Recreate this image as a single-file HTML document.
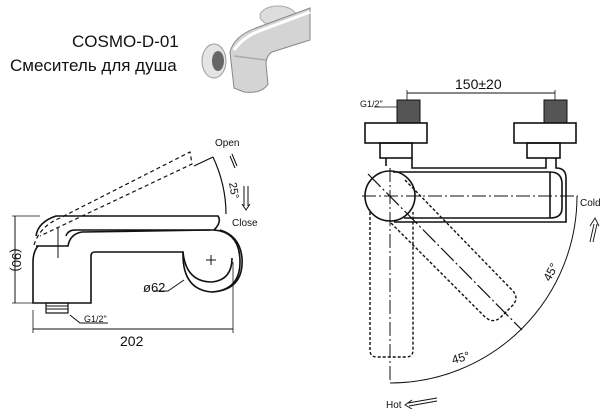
<!DOCTYPE html>
<html><head><meta charset="utf-8"><style>
html,body{margin:0;padding:0;background:#fff;}
svg{display:block;}
text{font-family:"Liberation Sans",sans-serif;fill:#111;}
</style></head><body>
<svg width="607" height="409" viewBox="0 0 607 409" xmlns="http://www.w3.org/2000/svg">
<rect width="607" height="409" fill="#fff"/>
<text x="72" y="47" font-size="17">COSMO-D-01</text>
<text x="10" y="71" font-size="17">Смеситель для душа</text>

<!-- product photo -->
<g>
  <ellipse cx="278" cy="16" rx="18" ry="10" fill="#ddd" stroke="#aaa"/>
  <ellipse cx="214" cy="61" rx="12" ry="17" fill="#e4e4e4" stroke="#999"/>
  <ellipse cx="218" cy="61" rx="6" ry="10" fill="#666"/>
  <path d="M230 52 Q234 36 256 28 L310 8 L310 40 L272 52 Q266 56 266 64 L268 84 Q262 94 244 92 L234 88 Z" fill="#d4d4d4" stroke="#888"/>
  <path d="M234 50 Q244 36 262 30 L310 12" stroke="#fff" stroke-width="3" fill="none"/>
  <path d="M234 56 L266 60" stroke="#aaa" stroke-width="1.5" fill="none"/>
</g>

<g fill="none" stroke="#111" stroke-width="1.6">
<!-- LEFT drawing -->
  <path d="M36 236 Q38 222 56 216 L218 216 Q222 222 214 230 L75 230 Q68 230 66 236"/>
  <path d="M36 246 L68 246 Q70 234 82 232 L210 230"/>
  <path d="M38 246 Q33 252 33 262 L33 303 L91 303 L91 256 Q91 252 95 252 L183 252 Q182 290 212 292 Q240 290 240 262 Q240 232 214 230"/>
  <path d="M183 252 Q186 282 212 282 Q232 280 232 258"/>
  <path d="M212 292 Q244 290 242 258 Q240 236 220 230"/>
  <rect x="46" y="303" width="22" height="10" stroke-width="1.2"/>
  <line x1="46" y1="306" x2="68" y2="306" stroke-width="1"/>
  <line x1="46" y1="309" x2="68" y2="309" stroke-width="1"/>
  <path d="M34 245 Q40 226 60 218 L190 152 L192 164 L40 236" stroke-dasharray="4,3" stroke-width="1.2"/>
  <line x1="58" y1="228" x2="58" y2="258" stroke-width="1"/>
  <path d="M194 166 L213 157" stroke-width="1.2"/>
  <path d="M213 157 Q226 185 226 214" stroke-width="1.2"/>
  <line x1="15" y1="216" x2="15" y2="303" stroke-width="1"/>
  <line x1="12" y1="216" x2="40" y2="216" stroke-width="0.8"/>
  <line x1="12" y1="303" x2="33" y2="303" stroke-width="0.8"/>
  <line x1="33" y1="310" x2="33" y2="333" stroke-width="0.8"/>
  <line x1="233" y1="262" x2="233" y2="333" stroke-width="0.8"/>
  <line x1="33" y1="329" x2="233" y2="329" stroke-width="1"/>
  <path d="M153 291 L168 291 L184 280" stroke-width="1"/>
  <path d="M70 315 L80 323 L108 323" stroke-width="1"/>
  <line x1="206" y1="260" x2="216" y2="260" stroke-width="1"/>
  <line x1="211" y1="255" x2="211" y2="265" stroke-width="1"/>
  <path d="M232 154 L237 166 M230 156 L235 168" stroke-width="1"/>
  <path d="M244 186 L244 206 M248 186 L248 206 M242 204 L246 210 L250 204" stroke-width="1"/>

<!-- RIGHT drawing -->
  <line x1="407" y1="93" x2="555" y2="93" stroke-width="1"/>
  <line x1="407" y1="90" x2="407" y2="100" stroke-width="0.8"/>
  <line x1="555" y1="90" x2="555" y2="100" stroke-width="0.8"/>
  <rect x="397" y="100" width="23" height="23" fill="#555" stroke-width="1"/>
  <rect x="544" y="100" width="23" height="23" fill="#555" stroke-width="1"/>
  <rect x="365" y="123" width="62" height="20"/>
  <rect x="514" y="123" width="62" height="20"/>
  <rect x="380" y="143" width="32" height="15"/>
  <rect x="527" y="143" width="33" height="15"/>
  <path d="M386 158 L386 166 M412 158 L412 168 L546 168 L546 158 M556 158 L556 168 Q566 168 566 178 L566 222 L394 222"/>
  <path d="M393 172 L550 172 Q562 172 562 184 L562 208 Q562 218 550 218 L404 218"/>
  <path d="M550 172 L550 218"/>
  <circle cx="390" cy="196" r="25"/>
  <line x1="362" y1="196" x2="578" y2="196" stroke-width="1" stroke-dasharray="14,3,2,3"/>
  <line x1="390" y1="168" x2="390" y2="383" stroke-width="1" stroke-dasharray="14,3,2,3"/>
  <path d="M370 212 L370 350 Q370 357 377 357 L406 357 Q413 357 413 350 L413 212" stroke-dasharray="3,2" stroke-width="1.4"/>
  <path d="M405 180 L512 290 Q520 298 512 306 L500 318 Q492 324 484 316 L390 222" stroke-dasharray="3,2" stroke-width="1.4"/>
  <line x1="368" y1="174" x2="522" y2="330" stroke-width="1.2" stroke-dasharray="18,3,2,3"/>
  <path d="M577 196 A187 187 0 0 1 390 383" stroke-width="1"/>
  <path d="M374 107 L397 107" stroke-width="0.8"/>
  <path d="M590 242 L594 224 M593 242 L597 224 M590 226 L595 218 L599 226" stroke-width="0.9"/>
  <path d="M437 398 L408 403 M437 401 L409 406 M412 400 L405 405 L412 409" stroke-width="0.9"/>
</g>
<text x="143" y="292" font-size="13">ø62</text>
<text x="84" y="322" font-size="9">G1/2"</text>
<text x="120" y="346" font-size="14">202</text>
<text transform="translate(12,260) rotate(90)" font-size="13" text-anchor="middle">(90)</text>
<text x="215" y="146" font-size="10">Open</text>
<text x="232" y="226" font-size="10">Close</text>
<text transform="translate(229,183) rotate(80)" font-size="11">25°</text>

<text x="455" y="89" font-size="14">150±20</text>
<text x="360" y="107" font-size="9">G1/2"</text>
<text x="580" y="206" font-size="10">Cold</text>
<text x="386" y="408" font-size="10">Hot</text>
<text transform="translate(550,282) rotate(-62)" font-size="12">45°</text>
<text transform="translate(453,364) rotate(-15)" font-size="12">45°</text>
</svg>
</body></html>
